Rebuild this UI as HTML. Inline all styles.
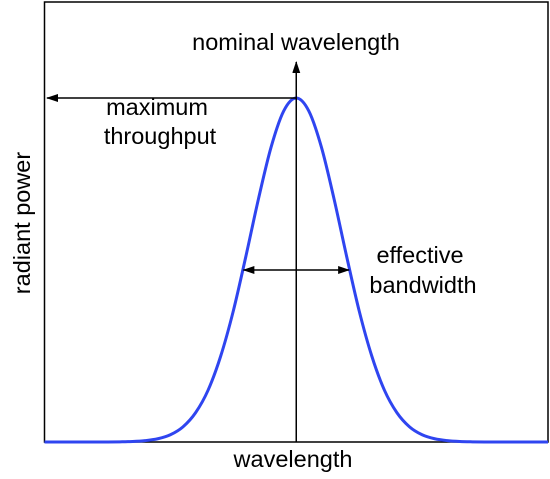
<!DOCTYPE html>
<html><head><meta charset="utf-8"><style>
html,body{margin:0;padding:0;background:#fff;}
svg{display:block;font-family:"Liberation Sans",sans-serif;}
</style></head><body>
<svg id="chart" width="550" height="479" viewBox="0 0 550 479">
<defs>
<marker id="ah" markerWidth="12" markerHeight="8" refX="11" refY="4" orient="auto" markerUnits="userSpaceOnUse">
<path d="M0,0 L12,4 L0,8 Z" fill="#000"/></marker>
</defs>
<rect x="44.5" y="2" width="503.5" height="440" fill="none" stroke="#000" stroke-width="1.5"/>
<g id="marks"></g>
<text x="296" y="50" font-size="23.5" text-anchor="middle">nominal wavelength</text>
<text x="157" y="115" font-size="23.5" text-anchor="middle"><tspan x="157">maximum</tspan><tspan x="160" y="144">throughput</tspan></text>
<text x="420" y="263" font-size="23.5" text-anchor="middle"><tspan x="420">effective</tspan><tspan x="423" y="293">bandwidth</tspan></text>
<text x="293" y="467" font-size="23.5" text-anchor="middle">wavelength</text>
<text transform="translate(30,223) rotate(-90)" font-size="23.5" text-anchor="middle">radiant power</text>
</svg>
<script>
const xValues=[0,2.5,5,7.5,10,12.5,15,17.5,20,22.5,25,27.5,30,32.5,35,37.5,40,42.5,45,47.5,50,52.5,55,57.5,60,62.5,65,67.5,70,72.5,75,77.5,80,82.5,85,87.5,90,92.5,95,97.5,100];
const yVals=[0,0,0,0,0,0,0.0005,0.0015,0.004,0.0094,0.021,0.044,0.085,0.151,0.25,0.381,0.54,0.707,0.857,0.962,1,0.962,0.857,0.707,0.54,0.381,0.25,0.151,0.085,0.044,0.021,0.0094,0.004,0.0015,0.0005,0,0,0,0,0,0];
const peakX=[50];
const halfLevel=[0.5];
const halfBounds=[39.3,60.7];
const X0=44.5,X1=548,Y0=442,Y1=98;
function sx(v){return X0+(v/100)*(X1-X0);}
function sy(v){return Y0-v*(Y0-Y1);}
const g=document.getElementById('marks');
const NS='http://www.w3.org/2000/svg';
const pts=xValues.map((x,i)=>[sx(x),sy(yVals[i])]);
let d='M'+pts[0][0]+','+pts[0][1];
for(let i=0;i<pts.length-1;i++){
 const p0=pts[Math.max(0,i-1)],p1=pts[i],p2=pts[i+1],p3=pts[Math.min(pts.length-1,i+2)];
 const c1x=p1[0]+(p2[0]-p0[0])/6,c1y=p1[1]+(p2[1]-p0[1])/6;
 const c2x=p2[0]-(p3[0]-p1[0])/6,c2y=p2[1]-(p3[1]-p1[1])/6;
 d+=` C${c1x},${c1y} ${c2x},${c2y} ${p2[0]},${p2[1]}`;
}
const curve=document.createElementNS(NS,'path');
curve.setAttribute('d',d);curve.setAttribute('fill','none');curve.setAttribute('stroke','#2f45f0');curve.setAttribute('stroke-width','3');


g.appendChild(curve);
function line(x1,y1,x2,y2,marks){
 const l=document.createElementNS(NS,'line');
 l.setAttribute('x1',x1);l.setAttribute('y1',y1);l.setAttribute('x2',x2);l.setAttribute('y2',y2);
 l.setAttribute('stroke','#000');l.setAttribute('stroke-width','1.5');
 if(marks.end)l.setAttribute('marker-end','url(#ah)');
 g.appendChild(l);return l;
}
const px=sx(peakX[0]);
const v=line(px,Y0,px,62,{end:1});


const h=line(px,Y1,47,Y1,{end:1});


const hy=sy(halfLevel[0]);
const b1=line(px,hy,sx(halfBounds[0])+1,hy,{end:1});


const b2=line(px,hy,sx(halfBounds[1])-1,hy,{end:1});


</script>
</body></html>
